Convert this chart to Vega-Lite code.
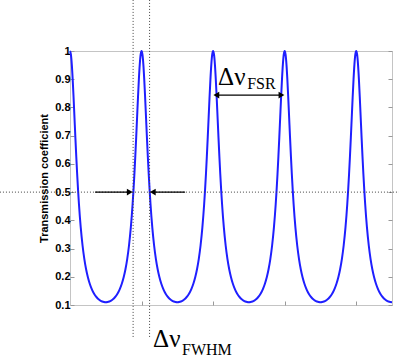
{
  "$schema": "https://vega.github.io/schema/vega-lite/v6.json",
  "width": 322,
  "height": 254,
  "autosize": {"type": "none"},
  "padding": {"left": 70, "top": 51, "right": 7, "bottom": 55},
  "background": "white",
  "config": {"view": {"stroke": "#c4c4c4", "strokeWidth": 1}, "font": "Liberation Sans"},
  "resolve": {"axis": {"x": "independent", "y": "independent"}},
  "datasets": {
    "curve": [
      {"x":0,"t":1},{"x":0.0125,"t":0.9877},{"x":0.025,"t":0.9526},{"x":0.0375,"t":0.8995},{"x":0.05,"t":0.8347},{"x":0.0625,"t":0.7646},{"x":0.075,"t":0.694},{"x":0.0875,"t":0.6265},{"x":0.1,"t":0.5642},{"x":0.1125,"t":0.5078},{"x":0.125,"t":0.4577},{"x":0.15,"t":0.3749},{"x":0.175,"t":0.3117},{"x":0.2,"t":0.2635},{"x":0.225,"t":0.2266},{"x":0.25,"t":0.1982},{"x":0.275,"t":0.1761},{"x":0.3,"t":0.1589},{"x":0.325,"t":0.1453},{"x":0.35,"t":0.1347},{"x":0.375,"t":0.1265},{"x":0.4,"t":0.1202},{"x":0.425,"t":0.1156},{"x":0.45,"t":0.1125},{"x":0.475,"t":0.1106},{"x":0.5,"t":0.11},
      {"x":0.525,"t":0.1106},{"x":0.55,"t":0.1125},{"x":0.575,"t":0.1156},{"x":0.6,"t":0.1202},{"x":0.625,"t":0.1265},{"x":0.65,"t":0.1347},{"x":0.675,"t":0.1453},{"x":0.7,"t":0.1589},{"x":0.725,"t":0.1761},{"x":0.75,"t":0.1982},{"x":0.775,"t":0.2266},{"x":0.8,"t":0.2635},{"x":0.825,"t":0.3117},{"x":0.85,"t":0.3749},{"x":0.875,"t":0.4577},{"x":0.8875,"t":0.5078},{"x":0.9,"t":0.5642},{"x":0.9125,"t":0.6265},{"x":0.925,"t":0.694},{"x":0.9375,"t":0.7646},{"x":0.95,"t":0.8347},{"x":0.9625,"t":0.8995},{"x":0.975,"t":0.9526},{"x":0.9875,"t":0.9877},
      {"x":1,"t":1},{"x":1.0125,"t":0.9877},{"x":1.025,"t":0.9526},{"x":1.0375,"t":0.8995},{"x":1.05,"t":0.8347},{"x":1.0625,"t":0.7646},{"x":1.075,"t":0.694},{"x":1.0875,"t":0.6265},{"x":1.1,"t":0.5642},{"x":1.1125,"t":0.5078},{"x":1.125,"t":0.4577},{"x":1.15,"t":0.3749},{"x":1.175,"t":0.3117},{"x":1.2,"t":0.2635},{"x":1.225,"t":0.2266},{"x":1.25,"t":0.1982},{"x":1.275,"t":0.1761},{"x":1.3,"t":0.1589},{"x":1.325,"t":0.1453},{"x":1.35,"t":0.1347},{"x":1.375,"t":0.1265},{"x":1.4,"t":0.1202},{"x":1.425,"t":0.1156},{"x":1.45,"t":0.1125},{"x":1.475,"t":0.1106},{"x":1.5,"t":0.11},
      {"x":1.525,"t":0.1106},{"x":1.55,"t":0.1125},{"x":1.575,"t":0.1156},{"x":1.6,"t":0.1202},{"x":1.625,"t":0.1265},{"x":1.65,"t":0.1347},{"x":1.675,"t":0.1453},{"x":1.7,"t":0.1589},{"x":1.725,"t":0.1761},{"x":1.75,"t":0.1982},{"x":1.775,"t":0.2266},{"x":1.8,"t":0.2635},{"x":1.825,"t":0.3117},{"x":1.85,"t":0.3749},{"x":1.875,"t":0.4577},{"x":1.8875,"t":0.5078},{"x":1.9,"t":0.5642},{"x":1.9125,"t":0.6265},{"x":1.925,"t":0.694},{"x":1.9375,"t":0.7646},{"x":1.95,"t":0.8347},{"x":1.9625,"t":0.8995},{"x":1.975,"t":0.9526},{"x":1.9875,"t":0.9877},
      {"x":2,"t":1},{"x":2.0125,"t":0.9877},{"x":2.025,"t":0.9526},{"x":2.0375,"t":0.8995},{"x":2.05,"t":0.8347},{"x":2.0625,"t":0.7646},{"x":2.075,"t":0.694},{"x":2.0875,"t":0.6265},{"x":2.1,"t":0.5642},{"x":2.1125,"t":0.5078},{"x":2.125,"t":0.4577},{"x":2.15,"t":0.3749},{"x":2.175,"t":0.3117},{"x":2.2,"t":0.2635},{"x":2.225,"t":0.2266},{"x":2.25,"t":0.1982},{"x":2.275,"t":0.1761},{"x":2.3,"t":0.1589},{"x":2.325,"t":0.1453},{"x":2.35,"t":0.1347},{"x":2.375,"t":0.1265},{"x":2.4,"t":0.1202},{"x":2.425,"t":0.1156},{"x":2.45,"t":0.1125},{"x":2.475,"t":0.1106},{"x":2.5,"t":0.11},
      {"x":2.525,"t":0.1106},{"x":2.55,"t":0.1125},{"x":2.575,"t":0.1156},{"x":2.6,"t":0.1202},{"x":2.625,"t":0.1265},{"x":2.65,"t":0.1347},{"x":2.675,"t":0.1453},{"x":2.7,"t":0.1589},{"x":2.725,"t":0.1761},{"x":2.75,"t":0.1982},{"x":2.775,"t":0.2266},{"x":2.8,"t":0.2635},{"x":2.825,"t":0.3117},{"x":2.85,"t":0.3749},{"x":2.875,"t":0.4577},{"x":2.8875,"t":0.5078},{"x":2.9,"t":0.5642},{"x":2.9125,"t":0.6265},{"x":2.925,"t":0.694},{"x":2.9375,"t":0.7646},{"x":2.95,"t":0.8347},{"x":2.9625,"t":0.8995},{"x":2.975,"t":0.9526},{"x":2.9875,"t":0.9877},
      {"x":3,"t":1},{"x":3.0125,"t":0.9877},{"x":3.025,"t":0.9526},{"x":3.0375,"t":0.8995},{"x":3.05,"t":0.8347},{"x":3.0625,"t":0.7646},{"x":3.075,"t":0.694},{"x":3.0875,"t":0.6265},{"x":3.1,"t":0.5642},{"x":3.1125,"t":0.5078},{"x":3.125,"t":0.4577},{"x":3.15,"t":0.3749},{"x":3.175,"t":0.3117},{"x":3.2,"t":0.2635},{"x":3.225,"t":0.2266},{"x":3.25,"t":0.1982},{"x":3.275,"t":0.1761},{"x":3.3,"t":0.1589},{"x":3.325,"t":0.1453},{"x":3.35,"t":0.1347},{"x":3.375,"t":0.1265},{"x":3.4,"t":0.1202},{"x":3.425,"t":0.1156},{"x":3.45,"t":0.1125},{"x":3.475,"t":0.1106},{"x":3.5,"t":0.11},
      {"x":3.525,"t":0.1106},{"x":3.55,"t":0.1125},{"x":3.575,"t":0.1156},{"x":3.6,"t":0.1202},{"x":3.625,"t":0.1265},{"x":3.65,"t":0.1347},{"x":3.675,"t":0.1453},{"x":3.7,"t":0.1589},{"x":3.725,"t":0.1761},{"x":3.75,"t":0.1982},{"x":3.775,"t":0.2266},{"x":3.8,"t":0.2635},{"x":3.825,"t":0.3117},{"x":3.85,"t":0.3749},{"x":3.875,"t":0.4577},{"x":3.8875,"t":0.5078},{"x":3.9,"t":0.5642},{"x":3.9125,"t":0.6265},{"x":3.925,"t":0.694},{"x":3.9375,"t":0.7646},{"x":3.95,"t":0.8347},{"x":3.9625,"t":0.8995},{"x":3.975,"t":0.9526},{"x":3.9875,"t":0.9877},
      {"x":4,"t":1},{"x":4.0125,"t":0.9877},{"x":4.025,"t":0.9526},{"x":4.0375,"t":0.8995},{"x":4.05,"t":0.8347},{"x":4.0625,"t":0.7646},{"x":4.075,"t":0.694},{"x":4.0875,"t":0.6265},{"x":4.1,"t":0.5642},{"x":4.1125,"t":0.5078},{"x":4.125,"t":0.4577},{"x":4.15,"t":0.3749},{"x":4.175,"t":0.3117},{"x":4.2,"t":0.2635},{"x":4.225,"t":0.2266},{"x":4.25,"t":0.1982},{"x":4.275,"t":0.1761},{"x":4.3,"t":0.1589},{"x":4.325,"t":0.1453},{"x":4.35,"t":0.1347},{"x":4.375,"t":0.1265},{"x":4.4,"t":0.1202},{"x":4.425,"t":0.1156},{"x":4.45,"t":0.1125},{"x":4.475,"t":0.1106},{"x":4.5,"t":0.11}
    ]
  },
  "layer": [
    {
      "data": {"name": "curve"},
      "mark": {"type": "line", "color": "#1f1fff", "strokeWidth": 2, "interpolate": "monotone"},
      "encoding": {
        "x": {"field": "x", "type": "quantitative",
          "scale": {"domain": [0, 4.5], "nice": false, "zero": false},
          "axis": {"orient": "bottom", "values": [1, 2, 3, 4], "labels": false, "domain": false, "grid": false, "ticks": true, "tickSize": -4, "tickColor": "#999999", "title": null}},
        "y": {"field": "t", "type": "quantitative",
          "scale": {"domain": [0.1, 1], "nice": false, "zero": false},
          "axis": {"orient": "left", "values": [0.1, 0.2, 0.3, 0.4, 0.5, 0.6, 0.7, 0.8, 0.9, 1], "format": "~g", "domain": false, "grid": false, "tickSize": -4, "tickColor": "#999999", "labelFont": "Liberation Sans", "labelFontWeight": "bold", "labelFontSize": 11, "labelColor": "black", "labelPadding": 4, "title": "Transmission coefficient", "titleFont": "Liberation Sans", "titleFontSize": 11, "titleFontWeight": "bold", "titleColor": "black", "titlePadding": 5}}
      }
    },
    {
      "data": {"name": "curve"},
      "mark": {"type": "line", "opacity": 0},
      "encoding": {
        "x": {"field": "x", "type": "quantitative",
          "axis": {"orient": "top", "values": [1, 2, 3, 4], "labels": false, "domain": false, "grid": false, "tickSize": -4, "tickColor": "#999999", "title": null}},
        "y": {"field": "t", "type": "quantitative",
          "axis": {"orient": "right", "values": [0.1, 0.2, 0.3, 0.4, 0.5, 0.6, 0.7, 0.8, 0.9, 1], "labels": false, "domain": false, "grid": false, "tickSize": -4, "tickColor": "#999999", "title": null}}
      }
    },
    {
      "data": {"values": [{"x": 0.882, "top": 1.181, "bottom": -0.017}, {"x": 1.112, "top": 1.181, "bottom": -0.017}]},
      "mark": {"type": "rule", "color": "#444444", "strokeWidth": 1, "strokeDash": [1, 2]},
      "encoding": {
        "x": {"field": "x", "type": "quantitative", "axis": null},
        "y": {"field": "top", "type": "quantitative", "axis": null},
        "y2": {"field": "bottom"}
      }
    },
    {
      "data": {"values": [{"x1": -0.979, "x2": 4.6, "y": 0.5}]},
      "mark": {"type": "rule", "color": "#444444", "strokeWidth": 1, "strokeDash": [1, 2]},
      "encoding": {
        "x": {"field": "x1", "type": "quantitative", "axis": null},
        "x2": {"field": "x2"},
        "y": {"field": "y", "type": "quantitative", "axis": null}
      }
    },
    {
      "data": {"values": [
        {"x1": 0.35, "x2": 0.84, "y": 0.5},
        {"x1": 1.15, "x2": 1.608, "y": 0.5},
        {"x1": 2.04, "x2": 2.96, "y": 0.844}
      ]},
      "mark": {"type": "rule", "color": "black", "strokeWidth": 1.3},
      "encoding": {
        "x": {"field": "x1", "type": "quantitative", "axis": null},
        "x2": {"field": "x2"},
        "y": {"field": "y", "type": "quantitative", "axis": null}
      }
    },
    {
      "data": {"values": [
        {"x": 0.835, "y": 0.5, "dir": "right"},
        {"x": 2.955, "y": 0.844, "dir": "right"}
      ]},
      "mark": {"type": "point", "shape": "triangle-right", "filled": true, "color": "black", "size": 45, "opacity": 1},
      "encoding": {
        "x": {"field": "x", "type": "quantitative", "axis": null},
        "y": {"field": "y", "type": "quantitative", "axis": null}
      }
    },
    {
      "data": {"values": [
        {"x": 1.157, "y": 0.5, "dir": "left"},
        {"x": 2.045, "y": 0.844, "dir": "left"}
      ]},
      "mark": {"type": "point", "shape": "triangle-left", "filled": true, "color": "black", "size": 45, "opacity": 1},
      "encoding": {
        "x": {"field": "x", "type": "quantitative", "axis": null},
        "y": {"field": "y", "type": "quantitative", "axis": null}
      }
    },
    {
      "data": {"values": [{"label": "Δν", "x": 2.07, "y": 0.88}, {"label": "Δν", "x": 1.161, "y": -0.049}]},
      "mark": {"type": "text", "font": "Liberation Serif", "fontSize": 25, "align": "left", "baseline": "alphabetic", "color": "black"},
      "encoding": {
        "x": {"field": "x", "type": "quantitative", "axis": null},
        "y": {"field": "y", "type": "quantitative", "axis": null},
        "text": {"field": "label"}
      }
    },
    {
      "data": {"values": [{"label": "FSR", "x": 2.476, "y": 0.865}, {"label": "FWHM", "x": 1.566, "y": -0.077}]},
      "mark": {"type": "text", "font": "Liberation Serif", "fontSize": 16, "align": "left", "baseline": "alphabetic", "color": "black"},
      "encoding": {
        "x": {"field": "x", "type": "quantitative", "axis": null},
        "y": {"field": "y", "type": "quantitative", "axis": null},
        "text": {"field": "label"}
      }
    }
  ]
}
